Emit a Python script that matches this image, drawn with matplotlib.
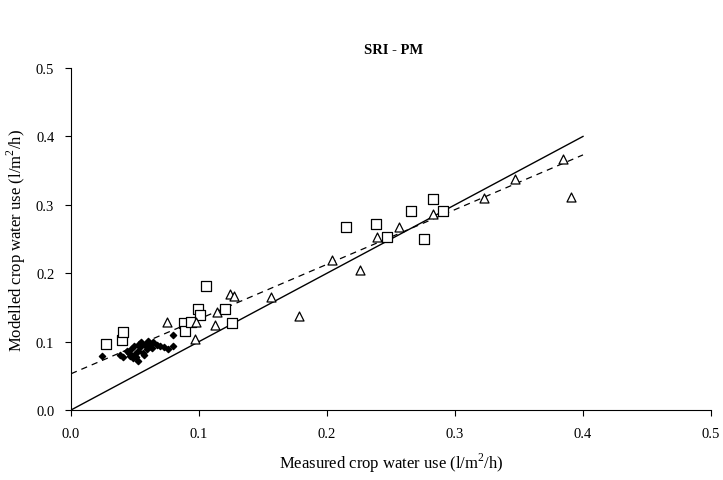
import numpy as np
import matplotlib.pyplot as plt

plt.rcParams['font.family'] = ['Liberation Serif', 'DejaVu Serif']
plt.rcParams['mathtext.fontset'] = 'custom'
plt.rcParams['mathtext.rm'] = 'Liberation Serif'

# measured vs modelled crop water use (l/m2/h)
sq_meas = [0.027, 0.040, 0.041, 0.088, 0.089, 0.094, 0.0995, 0.101, 0.1055,
           0.120, 0.1255, 0.215, 0.238, 0.247, 0.266, 0.276, 0.283, 0.291]
sq_mod = [0.097, 0.102, 0.114, 0.127, 0.115, 0.128, 0.147, 0.139, 0.182,
          0.148, 0.127, 0.268, 0.272, 0.253, 0.291, 0.250, 0.308, 0.291]

tri_meas = [0.075, 0.097, 0.098, 0.1125, 0.114, 0.124, 0.127, 0.156, 0.178,
            0.2036, 0.226, 0.239, 0.2565, 0.283, 0.323, 0.347, 0.384, 0.391]
tri_mod = [0.129, 0.104, 0.128, 0.125, 0.143, 0.170, 0.166, 0.165, 0.138,
           0.219, 0.205, 0.253, 0.267, 0.286, 0.310, 0.338, 0.367, 0.312]

dia_meas = [0.024, 0.038, 0.041, 0.0435, 0.046, 0.047, 0.0485, 0.050, 0.051,
            0.052, 0.0526, 0.054, 0.055, 0.0565, 0.058, 0.059, 0.060, 0.0617,
            0.064, 0.067, 0.0695, 0.073, 0.076, 0.080, 0.0794, 0.045, 0.057,
            0.063, 0.049, 0.053]
dia_mod = [0.079, 0.080, 0.078, 0.087, 0.079, 0.089, 0.076, 0.082, 0.077,
           0.087, 0.072, 0.092, 0.099, 0.084, 0.095, 0.089, 0.101, 0.094,
           0.099, 0.095, 0.094, 0.092, 0.089, 0.094, 0.110, 0.083, 0.080,
           0.090, 0.093, 0.096]

# fitted regression line
slope = 0.80
intercept = 0.053

fig = plt.figure(figsize=(7.23, 4.81), dpi=100)
ax = fig.add_axes([0.0982, 0.1455, 0.8852, 0.711])

line_x = np.array([0.0, 0.4])
ax.plot(line_x, line_x, color='black', lw=1.0, zorder=2)
ax.plot(line_x, intercept + slope * line_x, color='black', lw=0.9,
        dashes=(5, 4), zorder=2)

ax.scatter(dia_meas, dia_mod, marker='D', s=10, color='black', zorder=3)
ax.scatter(sq_meas, sq_mod, marker='s', s=50, facecolor='white',
           edgecolor='black', linewidth=0.9, zorder=4)
ax.scatter(tri_meas, tri_mod, marker='^', s=42, facecolor='white',
           edgecolor='black', linewidth=0.9, zorder=4)

ax.set_xlim(0, 0.5)
ax.set_ylim(0, 0.5)
ax.set_xticks([0.0, 0.1, 0.2, 0.3, 0.4, 0.5])
ax.set_yticks([0.0, 0.1, 0.2, 0.3, 0.4, 0.5])
ax.set_xticklabels(['0.0', '0.1', '0.2', '0.3', '0.4', '0.5'])
ax.set_yticklabels(['0.0', '0.1', '0.2', '0.3', '0.4', '0.5'])
ax.tick_params(direction='out', length=4, width=0.8, labelsize=10.5, pad=8)
ax.spines['top'].set_visible(False)
ax.spines['right'].set_visible(False)

ax.set_xlabel('Measured crop water use (l/m$^2$/h)', fontsize=12,
              labelpad=8)
ax.set_ylabel('Modelled crop water use (l/m$^2$/h)', fontsize=12,
              labelpad=6)
fig.text(0.545, 0.895, 'SRI - PM', ha='center', va='center', fontsize=10.5,
         fontweight='bold')

fig.savefig('out.png', dpi=100)
